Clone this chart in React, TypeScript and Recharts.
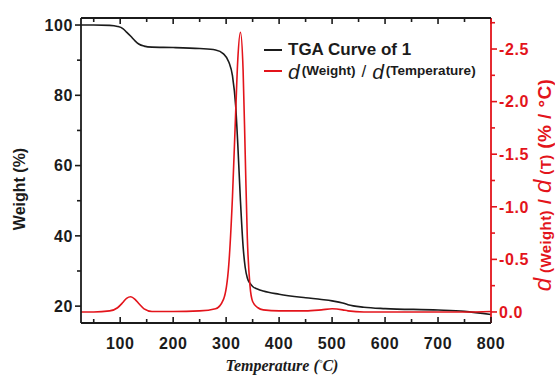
import React from "react";
import * as RC from "recharts";
import {
    ComposedChart,
    Line,
    XAxis,
    YAxis,
    Legend,
    Label,
    ReferenceLine
} from "recharts";

// temperature (°C) sample points
const temps = [
    25, 50, 80, 95, 105, 112, 120, 128, 135, 145, 160, 200, 250, 280, 295, 305, 312,
    318, 322, 327, 332, 336, 340, 345, 350, 360, 370, 400, 450, 480, 500, 520, 530,
    560, 600, 700, 750, 800
];

// TGA weight (%)
const weightPct = [
    100, 100, 99.9, 99.6, 99, 98, 96.8, 95.5, 94.6, 94, 93.7, 93.6, 93.3, 92.9, 91.8,
    89.5, 85.5, 77, 66, 50, 37, 31, 28, 26.5, 25.6, 24.8, 24.3, 23.4, 22.4, 21.9, 21.5,
    20.9, 20.4, 19.7, 19.3, 18.9, 18.5, 17.6
];

// d(Weight)/d(T) (% / °C)
const dWdT = [
    0, 0, -0.01, -0.04, -0.09, -0.13, -0.145, -0.12, -0.08, -0.03, -0.005, -0.005,
    -0.01, -0.03, -0.12, -0.45, -1.1, -1.9, -2.4, -2.66, -2.3, -1.5, -0.7, -0.25, -0.1,
    -0.04, -0.02, -0.01, -0.01, -0.02, -0.03, -0.02, -0.01, 0, 0, 0, 0, -0.005
];

const xTicks = [50, 100, 150, 200, 250, 300, 350, 400, 450, 500, 550, 600, 650, 700, 750, 800];
const leftTicks = [20, 30, 40, 50, 60, 70, 80, 90, 100];
const rightTicks = [-2.75, -2.5, -2.25, -2, -1.75, -1.5, -1.25, -1, -0.75, -0.5, -0.25, 0];
const xDomain = [26, 800];

const rows = temps.map((t, i) => ({ t, w: weightPct[i], d: dWdT[i] }));

const SANS = "'Liberation Sans', Arial, Helvetica, sans-serif";
const SERIF = "'Liberation Serif', 'Times New Roman', serif";
const RED = "#e3141b";
const INK = "#1b1b1b";

function BottomTick(props: any) {
    const { x, y, payload } = props;
    const major = payload.value % 100 === 0;
    return (
        <g>
            <line x1={x} y1={y} x2={x} y2={y - (major ? 6 : 4)} stroke={INK} strokeWidth={1.6} />
            {major && (
                <text x={x} y={y + 26} textAnchor="middle" fontFamily={SANS} fontWeight={700}
                    fontSize={16} letterSpacing={0.6} fill={INK}>
                    {payload.value}
                </text>
            )}
        </g>
    );
}

function LeftTick(props: any) {
    const { x, y, payload } = props;
    const major = payload.value % 20 === 0;
    return (
        <g>
            <line x1={x} y1={y} x2={x - (major ? 6 : 4)} y2={y} stroke={INK} strokeWidth={1.6} />
            {major && (
                <text x={x - 8} y={y} dy="0.36em" textAnchor="end" fontFamily={SANS} fontWeight={700}
                    fontSize={16} letterSpacing={0.6} fill={INK}>
                    {payload.value}
                </text>
            )}
        </g>
    );
}

function RightTick(props: any) {
    const { x, y, payload } = props;
    const v = payload.value;
    const major = Math.abs(v * 2 - Math.round(v * 2)) < 1e-6;
    return (
        <g>
            <line x1={x} y1={y} x2={x + (major ? 6 : 4)} y2={y} stroke={RED} strokeWidth={1.6} />
            {major && (
                <text x={x + 8} y={y} dy="0.36em" textAnchor="start" fontFamily={SANS} fontWeight={700}
                    fontSize={16} letterSpacing={0.6} fill={RED}>
                    {v === 0 ? "0.0" : v.toFixed(1)}
                </text>
            )}
        </g>
    );
}

// top edge of the frame with inward ticks, drawn from the chart's plot area
function TopFrame() {
    const usePA = (RC as any).usePlotArea;
    const area = usePA ? usePA() : null;
    if (!area) return null;
    const top = area.y;
    const sx = (t: number) => area.x + ((t - xDomain[0]) / (xDomain[1] - xDomain[0])) * area.width;
    return (
        <g>
            <line x1={area.x} y1={top} x2={area.x + area.width} y2={top} stroke={INK} strokeWidth={1.8} />
            {xTicks.map((t) => (
                <line key={t} x1={sx(t)} y1={top} x2={sx(t)} y2={top + (t % 100 === 0 ? 6 : 4)}
                    stroke={INK} strokeWidth={1.6} />
            ))}
        </g>
    );
}

function LegendBox() {
    return (
        <div style={{ fontFamily: SANS, color: INK, lineHeight: 1 }}>
            <div style={{ display: "flex", alignItems: "center", height: 21 }}>
                <span style={{ width: 18, borderTop: `2px solid ${INK}`, marginRight: 6 }} />
                <span style={{ fontWeight: 700, fontSize: 17 }}>TGA Curve of 1</span>
            </div>
            <div style={{ display: "flex", alignItems: "center", height: 22 }}>
                <span style={{ width: 18, borderTop: `2px solid ${RED}`, marginRight: 6 }} />
                <span style={{ fontSize: 21, fontStyle: "italic" }}>d</span>
                <span style={{ fontSize: 13.5, fontWeight: 700, marginLeft: 2 }}>(Weight)</span>
                <span style={{ fontSize: 17, margin: "0 6px" }}>/</span>
                <span style={{ fontSize: 21, fontStyle: "italic" }}>d</span>
                <span style={{ fontSize: 13.5, fontWeight: 700, marginLeft: 2 }}>(Temperature)</span>
            </div>
        </div>
    );
}

export default function App() {
    return (
        <div style={{ position: "absolute", left: 0, top: 0, width: 555, height: 377, background: "#fff" }}>
            <ComposedChart width={555} height={377} data={rows}
                margin={{ top: 18, right: 0, bottom: 0, left: 0 }}>
                <XAxis xAxisId="b" dataKey="t" type="number" domain={xDomain} ticks={xTicks}
                    allowDataOverflow height={54} tickSize={0} tickMargin={0} tickLine={false}
                    interval={0} tick={<BottomTick />} axisLine={{ stroke: INK, strokeWidth: 1.8 }}>
                    <Label content={() => (
                        <text x={282} y={371} textAnchor="middle" fontFamily={SERIF} fontWeight={700}
                            fontStyle="italic" fontSize={16} fill={INK}>
                            Temperature (<tspan fontSize={9} dy={-5}>°</tspan><tspan dy={5}>C)</tspan>
                        </text>
                    )} />
                </XAxis>
                <YAxis yAxisId="left" type="number" domain={[15.2, 102]} ticks={leftTicks}
                    allowDataOverflow width={81} tickSize={0} tickMargin={0} tickLine={false}
                    interval={0} tick={<LeftTick />} axisLine={{ stroke: INK, strokeWidth: 1.8 }}>
                    <Label content={() => (
                        <text x={25} y={189} transform="rotate(-90 25 189)" textAnchor="middle"
                            fontFamily={SANS} fontWeight={700} fontSize={16} fill={INK}>
                            Weight (%)
                        </text>
                    )} />
                </YAxis>
                <YAxis yAxisId="right" orientation="right" type="number" domain={[-2.795, 0.105]}
                    reversed ticks={rightTicks} allowDataOverflow width={64} tickSize={0}
                    tickMargin={0} tickLine={false} interval={0} tick={<RightTick />}
                    axisLine={{ stroke: RED, strokeWidth: 1.8 }}>
                    <Label content={() => (
                        <text x={551} y={185} transform="rotate(-90 551 185)" textAnchor="middle"
                            fontFamily={SANS} fontWeight={700} fill={RED} fontSize={19}
                            letterSpacing={0.4}>
                            <tspan fontSize={24} fontStyle="italic" fontWeight={400}>d</tspan>
                            <tspan fontSize={15}> (Weight)</tspan>
                            <tspan> / </tspan>
                            <tspan fontSize={24} fontStyle="italic" fontWeight={400}>d</tspan>
                            <tspan fontSize={15}> (T)</tspan>
                            <tspan> (% / °C)</tspan>
                        </text>
                    )} />
                </YAxis>
                <ReferenceLine xAxisId="b" yAxisId="left" y={102} stroke={INK} strokeWidth={1.8}
                    ifOverflow="extendDomain" />
                <TopFrame />
                <Legend content={<LegendBox />} layout="vertical" align="center" verticalAlign="middle"
                    wrapperStyle={{ position: "absolute", top: 39, left: 264, width: "auto" }} />
                <Line xAxisId="b" yAxisId="left" type="monotone" dataKey="w" name="TGA Curve of 1"
                    stroke={INK} strokeWidth={1.6} dot={false} isAnimationActive={false} />
                <Line xAxisId="b" yAxisId="right" type="monotone" dataKey="d"
                    name="d(Weight) / d(Temperature)" stroke={RED} strokeWidth={1.6} dot={false}
                    isAnimationActive={false} />
            </ComposedChart>
            {/* frame top edge overlay */}
            <div style={{ position: "absolute", left: 81, top: 17, width: 410, borderTop: `2px solid ${INK}`, pointerEvents: "none" }} />
        </div>
    );
}
